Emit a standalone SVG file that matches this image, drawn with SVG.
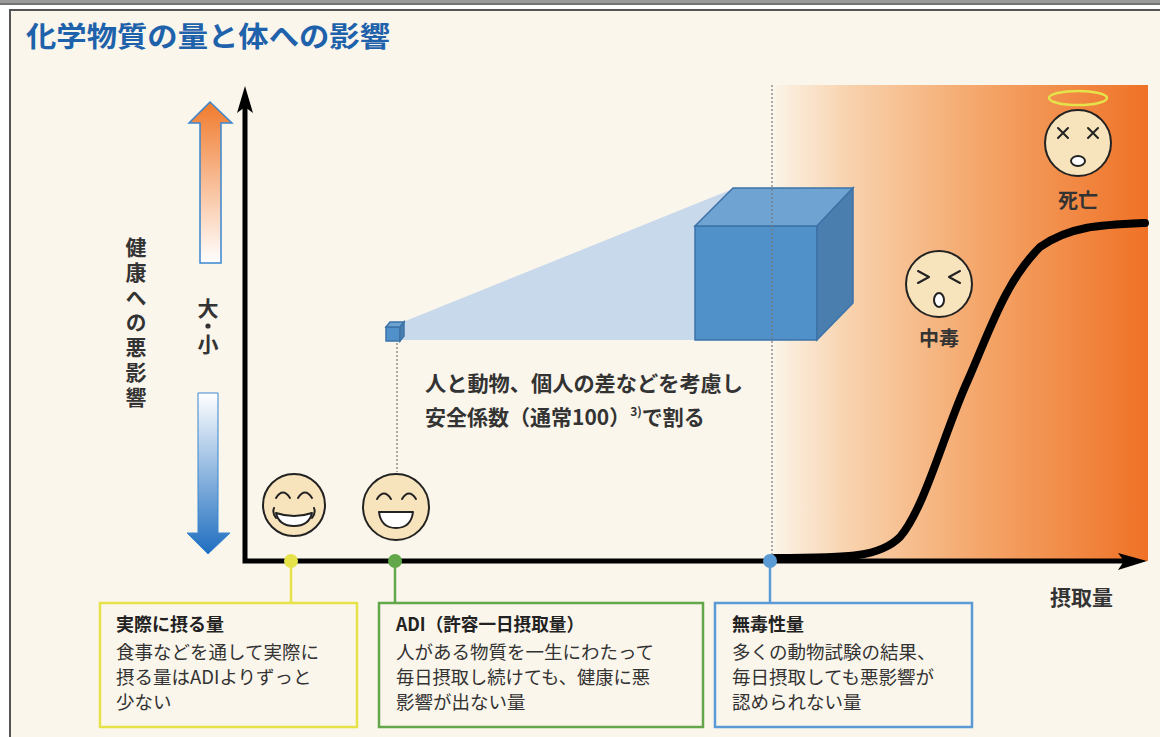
<svg xmlns="http://www.w3.org/2000/svg" width="1160" height="737" viewBox="0 0 1160 737">
  <defs>
    <style>
      .jp { font-family: "Noto Sans CJK JP", "Noto Sans", sans-serif; }
      .title { font-size: 28px; font-weight: 700; fill: #1e62ab; }
      .vlabel { font-size: 21px; font-weight: 700; fill: #333; text-anchor: middle; }
      .vtext { font-size: 21px; font-weight: 700; fill: #333; writing-mode: vertical-rl; letter-spacing: 4px; }
      .note { font-size: 21px; font-weight: 700; fill: #333; }
      .face-lbl { font-size: 20px; font-weight: 700; fill: #333; text-anchor: middle; }
      .box-head { font-size: 18px; font-weight: 700; fill: #222; }
      .box-body { font-size: 18.5px; font-weight: 400; fill: #333; }
      .face { fill: #f8e4bc; stroke: #222; stroke-width: 2; }
      .feat { fill: none; stroke: #222; stroke-width: 2; stroke-linecap: round; stroke-linejoin: round; }
      .teeth { fill: #fff; stroke: #222; stroke-width: 2; stroke-linejoin: round; }
      .axis { fill: none; stroke: #000; stroke-width: 5; }
      .dots { fill: none; stroke: #777; stroke-width: 1.2; stroke-dasharray: 2 2; }
      .cube-front { fill: #5091c9; stroke: #3d73a8; stroke-width: 1.5; }
      .cube-top { fill: #6fa4d2; stroke: #3d73a8; stroke-width: 1.5; }
      .cube-side { fill: #4a7eae; stroke: #3d73a8; stroke-width: 1.5; }
    </style>
    <linearGradient id="zone" x1="0" y1="0" x2="1" y2="0">
      <stop offset="0" stop-color="#fbf3e6"/>
      <stop offset="0.2" stop-color="#f8d2ad"/>
      <stop offset="0.55" stop-color="#f4a66a"/>
      <stop offset="1" stop-color="#ef7226"/>
    </linearGradient>
    <linearGradient id="upArrow" x1="0" y1="1" x2="0" y2="0">
      <stop offset="0" stop-color="#ffffff"/>
      <stop offset="1" stop-color="#f07a2c"/>
    </linearGradient>
    <linearGradient id="downArrow" x1="0" y1="0" x2="0" y2="1">
      <stop offset="0" stop-color="#ffffff"/>
      <stop offset="1" stop-color="#1f6ec0"/>
    </linearGradient>
  </defs>

  <!-- page frame -->
  <rect x="0" y="0" width="1160" height="737" fill="#ffffff"/>
  <rect x="0" y="0" width="1160" height="3" fill="#9a9a9a"/>
  <line x1="0" y1="4" x2="1160" y2="4" stroke="#444" stroke-width="1.5"/>
  <rect x="10" y="10" width="1160" height="740" fill="#fbf6ec" stroke="#555" stroke-width="2"/>

  <text class="jp title" x="26" y="47" textLength="364" lengthAdjust="spacingAndGlyphs">化学物質の量と体への影響</text>

  <!-- toxic zone background -->
  <rect x="775" y="85" width="373" height="476" fill="url(#zone)"/>

  <!-- y-axis legend -->
  <g id="legend-y">
    <path d="M200 263 L200 123 L189 123 L210 102 L232 123 L221 123 L221 263 Z" fill="url(#upArrow)" stroke="#3a86cf" stroke-width="1.5"/>
    <path d="M198 393 L218 393 L218 533 L230 533 L208 554 L187 533 L198 533 Z" fill="url(#downArrow)" stroke="#3a86cf" stroke-width="1"/>
    <text class="jp vlabel" x="208" y="316">大</text>
    <circle cx="208" cy="326" r="2.6" fill="#333"/>
    <text class="jp vlabel" x="208" y="352">小</text>
    <text class="jp vtext" x="136" y="237">健康への悪影響</text>
  </g>

  <!-- safety factor illustration -->
  <g id="scale-cubes">
    <polygon points="398,324 735,188 735,340 398,340" fill="#c9d9ec"/>
    <polygon class="cube-front" points="695,226 817,226 817,340 695,340"/>
    <polygon class="cube-top" points="695,226 733,188 853,188 817,226"/>
    <polygon class="cube-side" points="817,226 853,188 853,303 817,340"/>
    <polygon class="cube-front" points="386,327 400,327 400,341 386,341"/>
    <polygon class="cube-top" points="386,327 390,322 404,322 400,327"/>
    <polygon class="cube-side" points="400,327 404,322 404,336 400,341"/>
  </g>

  <g id="note">
    <text class="jp note" x="425" y="391" textLength="318" lengthAdjust="spacingAndGlyphs">人と動物、個人の差などを考慮し</text>
    <text class="jp note" x="425" y="425">安全係数（通常100）<tspan font-size="12" dy="-9">3)</tspan><tspan dy="9">で割る</tspan></text>
  </g>

  <!-- connectors: axes, guide lines, dose-response curve -->
  <g id="connectors">
    <line class="dots" x1="772" y1="85" x2="772" y2="556"/>
    <line class="dots" x1="397" y1="343" x2="397" y2="472"/>
    <path class="axis" d="M245 100 L245 561 L1130 561"/>
    <path d="M245 86 L237 113 L245 107 L253 113 Z" fill="#000"/>
    <path d="M1147 561 L1118 553 L1124 561 L1118 570 Z" fill="#000"/>
    <path d="M775 558 C 850 558, 880 557, 900 537 C 925 508, 945 430, 968 380 C 990 330, 1005 282, 1040 247 C 1070 226, 1100 225, 1145 223" fill="none" stroke="#000" stroke-width="8" stroke-linecap="round"/>
    <line x1="291" y1="561" x2="291" y2="603" stroke="#e6e24a" stroke-width="2.5"/>
    <line x1="395" y1="561" x2="395" y2="603" stroke="#62a84a" stroke-width="2.5"/>
    <line x1="770" y1="561" x2="770" y2="603" stroke="#5b9bd5" stroke-width="2.5"/>
    <circle cx="291" cy="561" r="7" fill="#e6e24a"/>
    <circle cx="395" cy="561" r="7" fill="#62a84a"/>
    <circle cx="770" cy="561" r="7" fill="#5b9bd5"/>
  </g>

  <text class="jp note" x="1050" y="605">摂取量</text>

  <!-- faces -->
  <g id="face-actual">
    <circle class="face" cx="294" cy="505" r="31"/>
    <path class="feat" d="M276 498 Q283 487 290 498"/>
    <path class="feat" d="M298 498 Q305 487 312 498"/>
    <path class="teeth" d="M276 513 Q294 519 312 513 Q309 526 294 526 Q279 526 276 513 Z"/>
    <path class="feat" d="M274 508 Q272 513 276 518"/>
    <path class="feat" d="M314 508 Q316 513 312 518"/>
  </g>
  <g id="face-adi">
    <circle class="face" cx="396" cy="507" r="33"/>
    <path class="feat" d="M377 499 Q384 488 391 499"/>
    <path class="feat" d="M402 499 Q409 488 416 499"/>
    <path class="teeth" d="M379 512 L413 512 Q411 528 396 528 Q381 528 379 512 Z"/>
  </g>
  <g id="face-poison">
    <circle class="face" cx="939" cy="284" r="33"/>
    <path class="feat" d="M918 271 L929 277 L918 283"/>
    <path class="feat" d="M960 271 L949 277 L960 283"/>
    <ellipse class="teeth" cx="939" cy="300" rx="5" ry="7"/>
    <text class="jp face-lbl" x="939" y="346">中毒</text>
  </g>
  <g id="face-death">
    <ellipse cx="1078" cy="98" rx="29" ry="7" fill="none" stroke="#e6e24a" stroke-width="2.5"/>
    <circle class="face" cx="1078" cy="143" r="33"/>
    <path class="feat" d="M1058 128 L1068 138 M1068 128 L1058 138"/>
    <path class="feat" d="M1088 128 L1098 138 M1098 128 L1088 138"/>
    <ellipse class="teeth" cx="1078" cy="161" rx="7" ry="5"/>
    <text class="jp face-lbl" x="1078" y="208">死亡</text>
  </g>

  <!-- explanation boxes -->
  <g id="box-actual">
    <rect x="100" y="603" width="257" height="124" fill="#fbf6ec" stroke="#e6e24a" stroke-width="2.5"/>
    <text class="jp box-head" x="116" y="631">実際に摂る量</text>
    <text class="jp box-body" x="116" y="659">食事などを通して実際に</text>
    <text class="jp box-body" x="116" y="684">摂る量はADIよりずっと</text>
    <text class="jp box-body" x="116" y="709">少ない</text>
  </g>
  <g id="box-adi">
    <rect x="379" y="603" width="324" height="124" fill="#fbf6ec" stroke="#62a84a" stroke-width="2.5"/>
    <text class="jp box-head" x="396" y="631" textLength="188" lengthAdjust="spacingAndGlyphs">ADI（許容一日摂取量）</text>
    <text class="jp box-body" x="396" y="659">人がある物質を一生にわたって</text>
    <text class="jp box-body" x="396" y="684" textLength="254" lengthAdjust="spacingAndGlyphs">毎日摂取し続けても、健康に悪</text>
    <text class="jp box-body" x="396" y="709">影響が出ない量</text>
  </g>
  <g id="box-noael">
    <rect x="715" y="603" width="257" height="124" fill="#fbf6ec" stroke="#5b9bd5" stroke-width="2.5"/>
    <text class="jp box-head" x="732" y="631">無毒性量</text>
    <text class="jp box-body" x="732" y="659">多くの動物試験の結果、</text>
    <text class="jp box-body" x="732" y="684">毎日摂取しても悪影響が</text>
    <text class="jp box-body" x="732" y="709">認められない量</text>
  </g>
</svg>
